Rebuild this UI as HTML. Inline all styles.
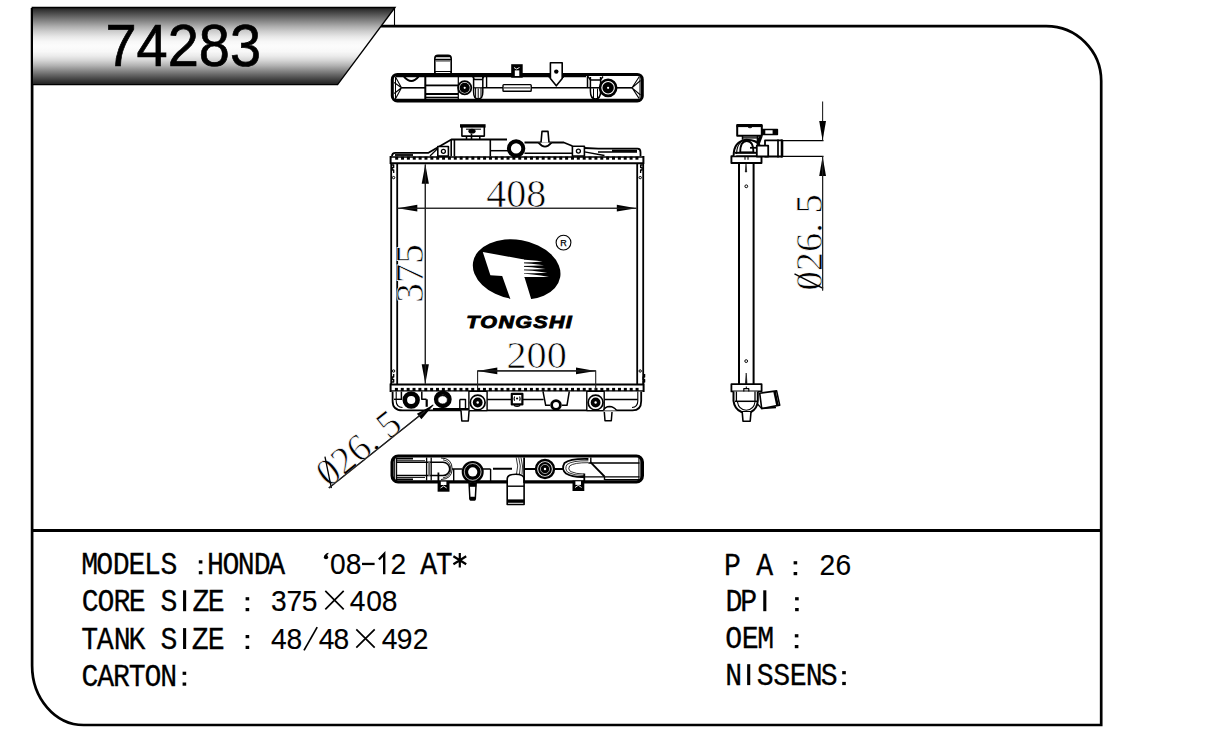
<!DOCTYPE html>
<html><head><meta charset="utf-8"><title>74283</title>
<style>
html,body{margin:0;padding:0;background:#fff;width:1220px;height:739px;overflow:hidden}
svg{display:block}
</style></head><body>
<svg width="1220" height="739" viewBox="0 0 1220 739">
<defs>
<linearGradient id="hg" x1="0" y1="0" x2="0" y2="1">
<stop offset="0.00" stop-color="#222222"/>
<stop offset="0.04" stop-color="#373737"/>
<stop offset="0.10" stop-color="#5a5a5a"/>
<stop offset="0.17" stop-color="#828282"/>
<stop offset="0.24" stop-color="#aaaaaa"/>
<stop offset="0.31" stop-color="#cdcdcd"/>
<stop offset="0.38" stop-color="#e8e8e8"/>
<stop offset="0.44" stop-color="#f7f7f7"/>
<stop offset="0.50" stop-color="#fcfcfc"/>
<stop offset="0.57" stop-color="#f8f8f8"/>
<stop offset="0.63" stop-color="#ebebeb"/>
<stop offset="0.69" stop-color="#d4d4d4"/>
<stop offset="0.75" stop-color="#b4b4b4"/>
<stop offset="0.81" stop-color="#8e8e8e"/>
<stop offset="0.87" stop-color="#686868"/>
<stop offset="0.93" stop-color="#444444"/>
<stop offset="1.00" stop-color="#1e1e1e"/>
</linearGradient>
</defs>
<rect width="1220" height="739" fill="#fff"/>
<!-- outer frame -->
<path d="M32.1 8 V665.5 A51.5 59.5 0 0 0 83.6 725 H1101.2 V81 A55 55 0 0 0 1046.2 26.1 H381" fill="none" stroke="#000" stroke-width="2.7"/>
<line x1="32.1" y1="530.5" x2="1101.2" y2="530.5" stroke="#000" stroke-width="3.1"/>
<!-- header -->
<path d="M32.3 7.5 H395 L337.6 84.6 H32.3 Z" fill="url(#hg)" stroke="#000" stroke-width="1.4"/>
<line x1="394.5" y1="7.5" x2="394.5" y2="26" stroke="#000" stroke-width="1.1"/>
<text x="0" y="0" font-family="Liberation Sans" font-size="59.5" fill="#000" stroke="#000" stroke-width="0.7" transform="translate(105.5 65.9) scale(0.94 1)">74283</text>
<g transform="scale(0.8800 1)" font-family="Liberation Mono" font-size="32.0" fill="#000" stroke="#000" stroke-width="0.30"><text x="101.99 119.09 137.84 155.51 173.18 192.10 244.89 262.50 279.89 297.95 314.32 487.16 504.66" y="574.3" text-anchor="middle">MODELSHONDAAT</text>
<text x="102.50 120.34 138.64 156.02 191.93 228.41 245.57 834.09 850.80" y="611.2" text-anchor="middle">CORESZEDP</text>
<text x="101.82 119.66 138.75 155.68 191.93 227.61 245.57" y="649.0" text-anchor="middle">TANKSZE</text>
<text x="102.16 120.06 137.95 155.85 173.75 191.65" y="685.7" text-anchor="middle">CARTON</text>
<text x="832.27 869.09" y="575.2" text-anchor="middle">PA</text>
<text x="833.86 852.39 870.00" y="648.2" text-anchor="middle">OEM</text>
<text x="833.86 869.66 888.30 907.16 925.11 942.39" y="685.1" text-anchor="middle">NSSENS</text></g><g transform="scale(0.9500 1)" font-family="Liberation Sans" font-size="29.7" fill="#000" stroke="#000" stroke-width="0.15"><text x="355.68 372.21 419.26" y="574.3" text-anchor="middle">082</text>
<text x="293.47 309.79 326.00 376.42 393.68 410.00" y="611.2" text-anchor="middle">375408</text>
<text x="293.47 309.89 343.68 359.37 410.11 426.00 442.84" y="649.0" text-anchor="middle">4848492</text>
<text x="870.84 887.79" y="575.2" text-anchor="middle">26</text></g><rect x="198.80" y="560.30" width="3.6" height="3.2" fill="#000"/><rect x="198.80" y="571.10" width="3.6" height="3.2" fill="#000"/>
<circle cx="326.00" cy="557.20" r="2.15" fill="#000"/>
<path d="M324.10 557.10 Q324.70 553.50 328.40 552.80 L328.40 553.90 Q326.30 554.70 327.00 556.70 Z" fill="#000"/>
<rect x="362.00" y="562.80" width="12.6" height="2.3" fill="#000"/>
<path d="M378.90 559.50 L384.20 553.90 V574.30" stroke="#000" stroke-width="2.4" fill="none" stroke-linejoin="miter"/>
<path d="M459.80 553.00 V567.60 M453.40 556.30 L466.20 564.30 M453.40 564.30 L466.20 556.30" stroke="#000" stroke-width="2.2" fill="none"/>
<rect x="183.05" y="590.30" width="3.1" height="20.90" fill="#000"/>
<rect x="245.60" y="597.20" width="3.6" height="3.2" fill="#000"/><rect x="245.60" y="608.00" width="3.6" height="3.2" fill="#000"/>
<rect x="183.05" y="628.10" width="3.1" height="20.90" fill="#000"/>
<rect x="245.60" y="635.00" width="3.6" height="3.2" fill="#000"/><rect x="245.60" y="645.80" width="3.6" height="3.2" fill="#000"/>
<line x1="304.00" y1="650.40" x2="317.20" y2="627.20" stroke="#000" stroke-width="1.7"/>
<rect x="182.60" y="671.70" width="3.6" height="3.2" fill="#000"/><rect x="182.60" y="682.50" width="3.6" height="3.2" fill="#000"/>
<rect x="793.60" y="561.20" width="3.6" height="3.2" fill="#000"/><rect x="793.60" y="572.00" width="3.6" height="3.2" fill="#000"/>
<rect x="763.25" y="590.30" width="3.1" height="20.90" fill="#000"/>
<rect x="795.10" y="597.20" width="3.6" height="3.2" fill="#000"/><rect x="795.10" y="608.00" width="3.6" height="3.2" fill="#000"/>
<rect x="794.80" y="634.20" width="3.6" height="3.2" fill="#000"/><rect x="794.80" y="645.00" width="3.6" height="3.2" fill="#000"/>
<rect x="747.15" y="664.20" width="3.1" height="20.90" fill="#000"/>
<rect x="842.20" y="671.10" width="3.6" height="3.2" fill="#000"/><rect x="842.20" y="681.90" width="3.6" height="3.2" fill="#000"/><path d="M325.3 590.9 L343.7 609.3 M343.7 590.9 L325.3 609.3" stroke="#000" stroke-width="1.7" fill="none"/><path d="M356.3 629.3 L374.7 647.7 M374.7 629.3 L356.3 647.7" stroke="#000" stroke-width="1.7" fill="none"/>
<!-- ===== TOP TANK (top view) ===== -->
<g fill="none" stroke="#000" stroke-linejoin="round" stroke-linecap="butt">
  <!-- filler neck -->
  <path d="M434.8 73 V58.5 Q434.8 55.2 438 55.2 H448 Q451.2 55.2 451.2 58.5 V73" stroke-width="1.6" fill="#fff"/>
  <path d="M435.5 56.6 H450.5 M435 59.4 H451" stroke-width="1.5"/>
  <path d="M436 61 H450" stroke-width="0.8"/>
  <path d="M435 73.4 V71.5 H451 V73.4" stroke-width="1"/>
  <!-- outer -->
  <rect x="392.3" y="74.4" width="250" height="26.5" rx="5" stroke-width="3"/>
  <line x1="394" y1="99.8" x2="641" y2="99.8" stroke-width="2"/>
  <line x1="396" y1="76.6" x2="586" y2="76.6" stroke-width="1.3"/>
  <!-- left chevron -->
  <path d="M395.5 77 L401.5 87.8 L395.5 98.8 M394.2 82.5 L401.5 87.8 L394.2 93.5" stroke-width="1.1"/>
  <line x1="395.5" y1="76.5" x2="395.5" y2="99" stroke-width="1"/>
  <path d="M404 76.6 Q411.3 85.5 418.5 76.6" stroke-width="2"/>
  <line x1="401.5" y1="87.8" x2="425" y2="87.8" stroke-width="1.6"/>
  <!-- filler base block -->
  <line x1="425.3" y1="76" x2="425.3" y2="99.5" stroke-width="2"/>
  <line x1="426" y1="85.4" x2="458" y2="85.4" stroke-width="1.8"/>
  <line x1="426" y1="94" x2="458" y2="94" stroke-width="2"/>
  <line x1="426" y1="97.5" x2="458" y2="97.5" stroke-width="1.6"/>
  <path d="M436 76.3 V73.8 M442.5 76.3 V73.8" stroke-width="1.2"/>
  <line x1="458.3" y1="77" x2="458.3" y2="99" stroke-width="1.2"/>
  <!-- circle 1 -->
  <circle cx="464.7" cy="87.8" r="6.6" stroke-width="1.8" fill="#fff"/>
  <circle cx="464.7" cy="87.8" r="5.1" fill="#000" stroke="none"/>
  <circle cx="464.7" cy="87.8" r="1.1" fill="#fff" stroke="none"/>
  <!-- clip 1 -->
  <path d="M473.6 76.5 V92 Q473.6 99 478.2 99 Q482.8 99 482.8 92 V76.5" stroke-width="1.5"/>
  <path d="M475.6 88 V97 M478.2 88.5 V99 M481 88 V97" stroke-width="1"/>
  <line x1="473.6" y1="87.8" x2="482.8" y2="87.8" stroke-width="1.2"/>
  <path d="M472.5 76.5 L474.5 79.5 H482 L484 76.5" stroke-width="1.3"/>
  <line x1="486.6" y1="76.2" x2="486.6" y2="88" stroke-width="1.4"/>
  <line x1="482.8" y1="87.8" x2="606" y2="87.8" stroke-width="1.6"/>
  <!-- slot -->
  <rect x="503" y="84.6" width="28.2" height="6.6" rx="0.8" stroke-width="1.4" fill="#fff"/>
  <line x1="504" y1="87.9" x2="530" y2="87.9" stroke-width="1"/>
  <!-- small square tab -->
  <rect x="511.2" y="64.2" width="11.5" height="13.5" fill="#000" stroke="none"/>
  <rect x="514.8" y="70.4" width="4.5" height="5.6" fill="#fff" stroke="none"/>
  <path d="M514 67.5 L516.5 69 L519.5 67.5" stroke="#fff" stroke-width="0.9"/>
  <!-- pointed tab -->
  <path d="M550.4 74.3 V62.8 H562.2 V74.3 V78.5 L556.3 85.8 L550.4 78.5 Z" stroke-width="1.6" fill="#fff"/>
  <circle cx="556.3" cy="71.6" r="2.2" fill="#000" stroke="none"/>
  <path d="M547.5 76 L550.4 78.5 M565 76 L562.2 78.5" stroke-width="1"/>
  <!-- clip 2 -->
  <line x1="587.5" y1="76" x2="587.5" y2="88" stroke-width="1.5"/>
  <path d="M590.4 77 V91 Q590.4 99 595.5 99 Q600.6 99 600.6 91 V77" stroke-width="1.5"/>
  <path d="M593.5 88.5 V98 M597.5 88.5 V98" stroke-width="1"/>
  <path d="M588 76.5 L590.5 80 H600.5 L603 76.5" stroke-width="1.3"/>
  <!-- circle 2 -->
  <circle cx="608.1" cy="87.8" r="8.1" stroke-width="2.6" fill="#fff"/>
  <circle cx="608.1" cy="87.8" r="5.7" fill="#000" stroke="none"/>
  <circle cx="608.1" cy="87.8" r="1.1" fill="#fff" stroke="none"/>
  <line x1="616" y1="87.8" x2="632" y2="87.8" stroke-width="1.6"/>
  <!-- right chevron -->
  <path d="M639.2 76.8 L632 87.8 L639.2 98.6 M640.5 80.5 L632 87.8 L640.5 95" stroke-width="1.1"/>
  <line x1="640" y1="77" x2="640" y2="98.5" stroke-width="1"/>
</g>
<g fill="none" stroke="#000" stroke-linejoin="round">
<line x1="390.2" y1="163.3" x2="644" y2="163.3" stroke-width="1.9"/>
<line x1="391" y1="157.1" x2="643.5" y2="157.1" stroke-width="1.5"/>
<g fill="#000" stroke="none"><rect x="395.18" y="156.60" width="3.00" height="3.10"/><rect x="401.04" y="156.60" width="3.00" height="3.10"/><rect x="406.90" y="156.60" width="3.00" height="3.10"/><rect x="412.76" y="156.60" width="3.00" height="3.10"/><rect x="418.62" y="156.60" width="3.00" height="3.10"/><rect x="424.48" y="156.60" width="3.00" height="3.10"/><rect x="430.34" y="156.60" width="3.00" height="3.10"/><rect x="436.20" y="156.60" width="3.00" height="3.10"/><rect x="442.06" y="156.60" width="3.00" height="3.10"/><rect x="447.92" y="156.60" width="3.00" height="3.10"/><rect x="453.78" y="156.60" width="3.00" height="3.10"/><rect x="459.64" y="156.60" width="3.00" height="3.10"/><rect x="465.50" y="156.60" width="3.00" height="3.10"/><rect x="471.36" y="156.60" width="3.00" height="3.10"/><rect x="477.22" y="156.60" width="3.00" height="3.10"/><rect x="483.08" y="156.60" width="3.00" height="3.10"/><rect x="488.94" y="156.60" width="3.00" height="3.10"/><rect x="494.80" y="156.60" width="3.00" height="3.10"/><rect x="500.66" y="156.60" width="3.00" height="3.10"/><rect x="506.52" y="156.60" width="3.00" height="3.10"/><rect x="512.38" y="156.60" width="3.00" height="3.10"/><rect x="518.24" y="156.60" width="3.00" height="3.10"/><rect x="524.10" y="156.60" width="3.00" height="3.10"/><rect x="529.96" y="156.60" width="3.00" height="3.10"/><rect x="535.82" y="156.60" width="3.00" height="3.10"/><rect x="541.68" y="156.60" width="3.00" height="3.10"/><rect x="547.54" y="156.60" width="3.00" height="3.10"/><rect x="553.40" y="156.60" width="3.00" height="3.10"/><rect x="559.26" y="156.60" width="3.00" height="3.10"/><rect x="565.12" y="156.60" width="3.00" height="3.10"/><rect x="570.98" y="156.60" width="3.00" height="3.10"/><rect x="576.84" y="156.60" width="3.00" height="3.10"/><rect x="582.70" y="156.60" width="3.00" height="3.10"/><rect x="588.56" y="156.60" width="3.00" height="3.10"/><rect x="594.42" y="156.60" width="3.00" height="3.10"/><rect x="600.28" y="156.60" width="3.00" height="3.10"/><rect x="606.14" y="156.60" width="3.00" height="3.10"/><rect x="612.00" y="156.60" width="3.00" height="3.10"/><rect x="617.86" y="156.60" width="3.00" height="3.10"/><rect x="623.72" y="156.60" width="3.00" height="3.10"/><rect x="629.58" y="156.60" width="3.00" height="3.10"/><rect x="635.44" y="156.60" width="3.00" height="3.10"/></g>
<path d="M390.6 156 V164" stroke-width="2"/>
<path d="M643.4 156 V164" stroke-width="2"/>
<path d="M391.2 164 V384 M397.2 164 V384 M637.2 164 V384 M643.2 164 V384" stroke-width="1.8"/>
<path d="M391.2 165 h2.5 v2.5 h-1.5 v2.5 h1.5 v3" stroke-width="1.3"/>
<circle cx="393.6" cy="177.6" r="1.2" stroke-width="1"/>
<path d="M642.6 165 h-2 v2.5 h1.5 v2.5 h-1.5 v3" stroke-width="1.3"/>
<circle cx="640.2" cy="177.6" r="1.2" stroke-width="1"/>
<path d="M391.2 382 h2.5 v-2.5 h-1.5 v-2.5 h1.5 v-3" stroke-width="1.3"/>
<circle cx="393.6" cy="371" r="1.2" stroke-width="1"/>
<path d="M642.6 382 h2 v-2.5 h-1.5 v-2.5 h1.5 v-3" stroke-width="1.3"/>
<circle cx="640.2" cy="371" r="1.2" stroke-width="1"/>
<path d="M392 156.3 Q392 152.8 395.5 152.8 H428.5 L451.4 139.5 H507" stroke-width="1.8"/>
<path d="M395 155 H413" stroke-width="1.8"/>
<path d="M430 156 L437.7 148.5" stroke-width="1.2"/>
<rect x="437.8" y="146.5" width="10.6" height="9.6" stroke-width="1.6" fill="#fff"/>
<circle cx="443.4" cy="151.3" r="2" stroke-width="1.3"/>
<path d="M451.2 140 V156.2 M454.4 140 V156.2" stroke-width="1.6"/>
<path d="M490.3 139.5 V156.2" stroke-width="1.6"/>
<path d="M490.3 150.7 H508" stroke-width="1.5"/>
<path d="M466.5 136 V139.5 M479.8 136 V139.5" stroke-width="1.5"/>
<rect x="461.9" y="126" width="22.4" height="10.1" stroke-width="1.6" fill="#fff"/>
<rect x="460" y="124.2" width="25.6" height="3.4" fill="#000" stroke="none"/>
<ellipse cx="472" cy="131.2" rx="3.6" ry="2.4" fill="#000" stroke="none"/>
<path d="M466 129.2 H481" stroke-width="1"/>
<path d="M471.5 133.5 V139" stroke-width="1.6"/>
<circle cx="516.1" cy="148.4" r="7.2" stroke-width="4" fill="#fff"/>
<path d="M524.5 142.5 H563.8 L572.4 146 M584.4 148 L598.2 148.7 H637.5 Q640.5 148.7 640.5 152.2 V156.2" stroke-width="1.8"/>
<path d="M524.5 153.3 H572.4" stroke-width="1.6"/>
<path d="M538.5 142.6 Q545 150.5 551.5 142.6" stroke-width="1.8" fill="#fff"/>
<path d="M541 142.5 L542 131.4 H548 L549 142.5" stroke-width="1.6" fill="#fff"/>
<rect x="572.4" y="146.2" width="12" height="9.8" stroke-width="1.6" fill="#fff"/>
<circle cx="578.4" cy="151.1" r="2" stroke-width="1.3"/>
<path d="M584.4 151.8 L604.5 155.5 M598 152 H637" stroke-width="1.3"/>
<path d="M612 150.8 H637" stroke-width="2.2"/>
<line x1="390.2" y1="384.4" x2="644" y2="384.4" stroke-width="2"/>
<line x1="391" y1="390.9" x2="643.5" y2="390.9" stroke-width="1.4"/>
<g fill="#000" stroke="none"><rect x="394.91" y="387.90" width="3.00" height="3.20"/><rect x="400.78" y="387.90" width="3.00" height="3.20"/><rect x="406.65" y="387.90" width="3.00" height="3.20"/><rect x="412.52" y="387.90" width="3.00" height="3.20"/><rect x="418.39" y="387.90" width="3.00" height="3.20"/><rect x="424.26" y="387.90" width="3.00" height="3.20"/><rect x="430.13" y="387.90" width="3.00" height="3.20"/><rect x="436.00" y="387.90" width="3.00" height="3.20"/><rect x="441.87" y="387.90" width="3.00" height="3.20"/><rect x="447.74" y="387.90" width="3.00" height="3.20"/><rect x="453.61" y="387.90" width="3.00" height="3.20"/><rect x="459.48" y="387.90" width="3.00" height="3.20"/><rect x="465.35" y="387.90" width="3.00" height="3.20"/><rect x="471.22" y="387.90" width="3.00" height="3.20"/><rect x="477.09" y="387.90" width="3.00" height="3.20"/><rect x="482.96" y="387.90" width="3.00" height="3.20"/><rect x="488.83" y="387.90" width="3.00" height="3.20"/><rect x="494.70" y="387.90" width="3.00" height="3.20"/><rect x="500.57" y="387.90" width="3.00" height="3.20"/><rect x="506.44" y="387.90" width="3.00" height="3.20"/><rect x="512.31" y="387.90" width="3.00" height="3.20"/><rect x="518.18" y="387.90" width="3.00" height="3.20"/><rect x="524.05" y="387.90" width="3.00" height="3.20"/><rect x="529.92" y="387.90" width="3.00" height="3.20"/><rect x="535.79" y="387.90" width="3.00" height="3.20"/><rect x="541.66" y="387.90" width="3.00" height="3.20"/><rect x="547.53" y="387.90" width="3.00" height="3.20"/><rect x="553.40" y="387.90" width="3.00" height="3.20"/><rect x="559.27" y="387.90" width="3.00" height="3.20"/><rect x="565.14" y="387.90" width="3.00" height="3.20"/><rect x="571.01" y="387.90" width="3.00" height="3.20"/><rect x="576.88" y="387.90" width="3.00" height="3.20"/><rect x="582.75" y="387.90" width="3.00" height="3.20"/><rect x="588.62" y="387.90" width="3.00" height="3.20"/><rect x="594.49" y="387.90" width="3.00" height="3.20"/><rect x="600.36" y="387.90" width="3.00" height="3.20"/><rect x="606.23" y="387.90" width="3.00" height="3.20"/><rect x="612.10" y="387.90" width="3.00" height="3.20"/><rect x="617.97" y="387.90" width="3.00" height="3.20"/><rect x="623.84" y="387.90" width="3.00" height="3.20"/><rect x="629.71" y="387.90" width="3.00" height="3.20"/><rect x="635.58" y="387.90" width="3.00" height="3.20"/></g>
<path d="M390.6 383.5 V392 M643.6 383.5 V392" stroke-width="2"/>
<path d="M392.6 391.4 V401 Q392.6 410.4 402.5 410.4 H632.5 Q641.2 410.4 641.2 401 V391.4" stroke-width="1.8"/>
<path d="M396.2 391.5 V401 Q396.2 407.2 402.5 407.5" stroke-width="1.1"/>
<path d="M401.4 391.4 V400 M421.8 391.4 V399.3 H426.5" stroke-width="1.5"/>
<path d="M426.7 399.3 V406.8" stroke-width="2.2"/>
<path d="M394 399.3 H402" stroke-width="1.4"/>
<circle cx="411.2" cy="400" r="6.4" stroke-width="4.6" fill="#fff"/>
<circle cx="442.8" cy="399.3" r="6.7" stroke-width="4.4" fill="#fff"/>
<ellipse cx="442.6" cy="399.9" rx="4.8" ry="4.2" stroke-width="0.9" fill="#fff"/>
<path d="M438.5 396.6 Q442.6 393.8 446.8 396.6" stroke="#000" stroke-width="1.3"/>

<path d="M433 409.4 H470" stroke-width="2.6"/>
<rect x="468.9" y="391.4" width="18.2" height="19.2" stroke-width="1.4" fill="#fff"/>
<circle cx="477.7" cy="402.5" r="7.4" stroke-width="1.7" fill="#fff"/>
<circle cx="477.7" cy="402.5" r="4.9" fill="#000" stroke="none"/>
<circle cx="477.7" cy="402.5" r="1.2" fill="#fff" stroke="none"/>
<path d="M487.1 399.6 H543.6 M604.2 399.6 H637.8" stroke-width="1.5"/>
<path d="M459.8 399.5 H465.5 V410.4 M459.8 399.5 V410.4" stroke-width="1.4"/>
<path d="M461 410.4 L461.8 421 H468.3 L469.1 410.4" stroke-width="1.5" fill="#fff"/>
<rect x="511.8" y="393.8" width="10.6" height="10.6" stroke-width="2.2" fill="#fff"/>
<circle cx="517.1" cy="398.5" r="1.1" fill="#000" stroke="none"/>
<path d="M514.6 396.5 Q513.6 398.5 514.6 400.8 M519.6 396.5 Q520.6 398.5 519.6 400.8" stroke-width="1.1"/>
<path d="M514 405.3 Q517.1 407.3 520.2 405.3" stroke-width="1.4"/>
<path d="M543 391.4 L545.7 405.3 H550 M562 405.3 H567 L569.3 391.4" stroke-width="1.5"/>
<circle cx="556" cy="405" r="4.4" stroke-width="2.8" fill="#fff"/>
<rect x="586.8" y="391.4" width="17.4" height="19.2" stroke-width="1.4" fill="#fff"/>
<circle cx="595.6" cy="402.5" r="7.4" stroke-width="1.7" fill="#fff"/>
<circle cx="595.6" cy="402.5" r="4.9" fill="#000" stroke="none"/>
<circle cx="595.6" cy="402.5" r="1.2" fill="#fff" stroke="none"/>
<path d="M603.5 410.4 Q605 406.8 609.5 406.6 Q614 406.8 616.5 410.4" stroke-width="1.5" fill="#fff"/>
<path d="M604.3 412 L605 420.8 H611.3 L612 412" stroke-width="1.5" fill="#fff"/>
<path d="M637.8 391.5 V401 Q637.8 407 632 407.5" stroke-width="1.1"/>
</g>
<g stroke="#222" fill="none" stroke-width="1.1">
<line x1="397.5" y1="208.2" x2="636.5" y2="208.2"/>
<line x1="425.3" y1="164.5" x2="425.3" y2="383.8"/>
<line x1="477.6" y1="370.9" x2="595.7" y2="370.9"/>
<line x1="477.6" y1="370.4" x2="477.6" y2="390"/>
<line x1="595.7" y1="370.4" x2="595.7" y2="390"/>
<line x1="328.8" y1="488" x2="433" y2="405"/>
</g>
<path d="M397.80 208.20 L417.30 204.80 L417.30 211.60 Z" fill="#000" stroke="none"/>
<path d="M636.30 208.20 L616.80 211.60 L616.80 204.80 Z" fill="#000" stroke="none"/>
<path d="M425.30 164.30 L428.90 183.80 L421.70 183.80 Z" fill="#000" stroke="none"/>
<path d="M425.30 383.80 L421.70 364.30 L428.90 364.30 Z" fill="#000" stroke="none"/>
<path d="M477.80 370.90 L497.30 367.50 L497.30 374.30 Z" fill="#000" stroke="none"/>
<path d="M595.50 370.90 L576.00 374.30 L576.00 367.50 Z" fill="#000" stroke="none"/>
<path d="M434.00 404.60 L421.39 419.26 L416.90 413.63 Z" fill="#000" stroke="none"/>
<text x="516.3" y="206.6" font-size="40" text-anchor="middle" font-family="Liberation Serif" fill="#000" stroke="#fff" stroke-width="0.7">408</text>
<text x="0" y="0" font-size="39" text-anchor="middle" font-family="Liberation Serif" fill="#000" stroke="#fff" stroke-width="0.7" transform="translate(423.2 273.6) rotate(-90)">375</text>
<text x="0" y="0" font-size="38.5" text-anchor="middle" font-family="Liberation Serif" fill="#000" stroke="#fff" stroke-width="0.7" transform="translate(536.6 367.9) scale(1.045 1)">200</text><g fill="none" stroke="#000" stroke-linejoin="round">
<rect x="392.1" y="456" width="250.3" height="25.8" rx="6" stroke-width="3.2"/>
<path d="M394.7 458 V480 M396.6 458 V480" stroke-width="1.1"/>
<path d="M396 458.6 H413" stroke-width="1.8"/>
<path d="M396 460.7 H425" stroke-width="0.9"/>
<path d="M396 462.2 H443 A6.7 6.7 0 0 1 443 475.6 H396" stroke-width="1.5"/>
<path d="M396 477.5 H425" stroke-width="0.9"/>
<path d="M396 479.3 H413" stroke-width="1.6"/>
<path d="M426.6 457.5 V480.5 M431.2 457.5 V480.5" stroke-width="1.3"/>
<path d="M429.2 462 V476" stroke-width="2" stroke="#666"/>
<path d="M441 458 Q452 458 452.2 469 Q452 479 441 479.5" stroke-width="0.9"/>
<path d="M443 459.8 Q450.5 461 450.8 469 Q450.5 477 443 477.8" stroke-width="0.8"/>
<path d="M453.7 469 V481 M490.6 469 V481" stroke-width="1.4"/>
<path d="M452 469 H462 M483 469 H490.6" stroke-width="1.6"/>
<path d="M493 468.8 H512 M524 469 H535 M555 469 H563.5" stroke-width="2"/>
<rect x="437.6" y="481" width="11.9" height="10.7" fill="#000" stroke="none"/>
<path d="M438.4 472.5 V481" stroke-width="1.8"/>
<rect x="440.8" y="481.6" width="5.6" height="3.4" fill="#fff" stroke="none"/>
<path d="M440.5 488 L443.6 486 L446.7 488" stroke="#fff" stroke-width="0.9"/>
<path d="M469 482 L469.9 499 H475.3 L476.2 482" stroke-width="1.5" fill="#fff"/>
<rect x="469" y="482.3" width="7.2" height="4.5" fill="#000" stroke="none"/>
<rect x="469.6" y="496.8" width="6" height="4" rx="1" fill="#000" stroke="none"/>
<circle cx="472.7" cy="471.9" r="11" fill="#000" stroke="none"/>
<circle cx="472.7" cy="471.9" r="8.4" stroke="#fff" stroke-width="0.7"/>
<circle cx="472.7" cy="471.9" r="4.6" fill="#fff" stroke="none"/>
<path d="M507.2 483 V479 Q507.2 474.2 515.6 474.2 Q524.1 474.2 524.1 479 V483" stroke-width="1.6" fill="#fff"/>
<path d="M507.2 482 V504.5 H524.1 V482" stroke-width="1.6" fill="#fff"/>
<path d="M507.2 486.2 H524.1" stroke-width="1.4"/>
<rect x="507" y="499.4" width="17.4" height="3.4" fill="#000" stroke="none"/>
<path d="M516.2 457.5 Q519 466 516.5 474.2 M518.7 457.5 Q521.5 466 519.5 474.2 M521 457.5 Q523.5 466 522 474.5" stroke-width="0.8"/>
<path d="M524.1 457.5 V483" stroke-width="1.8"/>
<circle cx="545" cy="469" r="9" stroke-width="2.4" fill="#fff"/>
<circle cx="545" cy="469" r="6.9" fill="#000" stroke="none"/>
<circle cx="545" cy="469" r="4.6" stroke="#fff" stroke-width="0.6"/>
<circle cx="545" cy="469" r="1.2" fill="#fff" stroke="none"/>
<path d="M588.4 459 Q570 458.5 564.5 463 Q561 469 566 473.5 Q572 477.3 584 477" stroke-width="1.8"/>
<path d="M588.4 460.8 Q572 460.5 567 464.5 Q564.3 469 568 472.5 Q574 475.5 584 475.5" stroke-width="0.8"/>
<path d="M588.4 462.7 Q574 462.5 569.5 466 Q567.5 469 570.5 471.5 Q576 474 584 474" stroke-width="0.8"/>
<rect x="572.5" y="480.5" width="11.8" height="10.5" fill="#000" stroke="none"/>
<path d="M584.3 473.5 V481" stroke-width="1.8"/>
<rect x="575.4" y="481.3" width="5.6" height="3.6" fill="#fff" stroke="none"/>
<path d="M575 487.5 L578.3 485.3 L581.6 487.5" stroke="#fff" stroke-width="0.9"/>
<path d="M588.4 463 H639.5 M584.3 476.8 H639.5" stroke-width="1.3"/>
<path d="M590.4 462.2 L604.5 476.5" stroke-width="1.8"/>
<path d="M590.8 457.6 V462.6 M604.5 476.5 V480" stroke-width="1.4"/>
<path d="M638.8 457.8 V480 M640.2 457.8 V480" stroke-width="0.9"/>
<path d="M604.5 479.6 H640" stroke-width="1.2"/>
</g>
<g>
<ellipse cx="516.65" cy="269.6" rx="44.2" ry="29.75" transform="rotate(10 516.65 269.6)" fill="#000"/>
<path d="M482.8 252 L524 259.5 L524 277.3 L524.5 277.2 L533 305 L512.5 305 L502.2 275.9 L490.4 275.3 Z" fill="#fff"/>
<path d="M518.0 259.4 Q532.0 259.7 542.5 261.6 Q532.0 262.7 518.0 262.6 Z" fill="#fff"/>
<path d="M518.0 262.9 Q532.0 263.2 544.0 265.3 Q532.0 266.2 518.0 266.1 Z" fill="#fff"/>
<path d="M518.0 266.4 Q532.0 266.7 545.5 268.9 Q532.0 269.7 518.0 269.6 Z" fill="#fff"/>
<path d="M518.0 269.9 Q532.0 270.2 547.2 272.7 Q532.0 273.3 518.0 273.2 Z" fill="#fff"/>
<path d="M518.0 273.5 Q532.0 273.8 549.0 277.0 Q532.0 277.1 518.0 277.1 Z" fill="#fff"/>
<circle cx="563.5" cy="242.6" r="7.4" fill="none" stroke="#000" stroke-width="1.1"/>
<text x="563.5" y="245.8" font-family="Liberation Sans" font-size="9" text-anchor="middle" fill="#000" stroke="#000" stroke-width="0.25">R</text>
<text x="0" y="0" font-family="Liberation Sans" font-weight="bold" font-style="italic" font-size="17.3" fill="#000" transform="translate(466.3 328.4) scale(1.24 1)" stroke="#000" stroke-width="0.9" letter-spacing="1.1">TONGSHI</text>
</g>
<g fill="none" stroke="#000" stroke-linejoin="round">
<path d="M739 163 V384 M753.6 163 V384" stroke-width="2"/>
<circle cx="746.3" cy="186.3" r="1.4" stroke-width="1"/>
<circle cx="746.2" cy="361.1" r="1.4" stroke-width="1"/>
<path d="M746.2 373 L745.4 383.5 H747 Z" fill="#000" stroke-width="0.6"/>
<path d="M746 163.5 L745.3 172 H746.7 Z" fill="#000" stroke-width="0.6"/>
<rect x="731.4" y="156.3" width="30.1" height="6.7" stroke-width="1.9" fill="#fff"/>
<path d="M745 156.3 V159.8 M748 156.3 V159.8" stroke-width="1.1"/>
<rect x="765" y="140.4" width="17.4" height="16.1" stroke-width="1.8" fill="#fff"/>
<path d="M778 139.5 V157.4 M781.6 139.5 V157.4" stroke-width="1.7"/>
<path d="M733.6 156.3 Q733.4 141.2 746.5 139.8 Q756.5 139.8 760 145.8" stroke-width="2" fill="#fff"/>
<path d="M736.6 154 Q736.6 146 741 142.2" stroke-width="1.1"/>
<path d="M740.2 152.3 Q740.2 141 746.8 141 Q753.4 141 753.4 152.3 Z" stroke-width="1.8" fill="#fff"/>
<path d="M750 147.8 H757" stroke-width="1.8"/>
<path d="M734.5 152.8 H761" stroke-width="2"/>
<rect x="756.8" y="145.7" width="11.4" height="10.8" stroke-width="1.8" fill="#fff"/>
<path d="M756.5 140 L759.8 135.8 L762.6 136.6 L759.2 145.8 L756.8 145.8 Z" fill="#000" stroke="none"/>
<path d="M742.5 135.8 V139.8 M757.5 135.8 V139.8" stroke-width="1.5"/>
<path d="M743 137.9 H757" stroke-width="1.3"/>
<rect x="737.2" y="125.4" width="24.6" height="10.4" stroke-width="2" fill="#fff"/>
<rect x="736.5" y="124" width="25.8" height="3.1" fill="#000" stroke="none"/>
<path d="M748 127 Q750 128.8 752 127" stroke-width="1"/>
<rect x="762" y="129.6" width="15.4" height="4.8" stroke-width="1.5" fill="#fff"/>
<rect x="772.6" y="129" width="5.2" height="6" rx="1" fill="#000" stroke="none"/>
<rect x="761.5" y="129" width="3.8" height="6" fill="#000" stroke="none"/>
<path d="M782.3 140.6 H823.5 M782.3 156.3 H823.5" stroke-width="1.2"/>
<rect x="731.4" y="384.2" width="30.2" height="7.2" stroke-width="1.8" fill="#fff"/>
<path d="M733.5 391.5 V400.8 Q734.5 409 741.5 412 H751 Q757.2 409 757.8 400.8 V391.5" stroke-width="2" fill="#fff"/>
<path d="M736.4 391.5 V401.3 M755 391.5 V401.3" stroke-width="1.3"/>
<path d="M735 401.3 H757" stroke-width="1.5"/>
<path d="M737.5 402 Q738.5 409.5 746.3 410.3 Q754 409.5 755 402" stroke-width="1.1"/>
<path d="M743.8 391.5 V388.7 H748.8 V391.5" stroke-width="1.2"/>
<path d="M746.3 388.7 V386.5" stroke-width="1"/>
<path d="M742.2 412 L743 421.3 H750.2 L751 412" stroke-width="1.6" fill="#fff"/>
<path d="M759.7 393.2 L776.6 390.9 L779.7 405.1 L761.7 408.5 Z" stroke-width="1.6" fill="#fff"/>
<path d="M774.5 391.3 L777.5 405.5" stroke-width="2.6"/>
<path d="M757.5 404 L761.7 408.5 L776 407.5" stroke-width="1.3"/>
</g>
<g stroke="#222" stroke-width="1.1" fill="none">
<line x1="822.6" y1="101.5" x2="822.6" y2="140.4"/>
<line x1="822.6" y1="156.5" x2="822.6" y2="290.5"/>
</g>
<path d="M822.60 140.40 L819.20 120.90 L826.00 120.90 Z" fill="#000" stroke="none"/>
<path d="M822.60 156.50 L826.00 176.00 L819.20 176.00 Z" fill="#000" stroke="none"/>
<g transform="translate(821.50 290.40) rotate(-90.00)"><text x="0" y="0" font-size="38.5" xml:space="preserve" font-family="Liberation Serif" fill="#000" stroke="#fff" stroke-width="0.7">026. 5</text><line x1="2" y1="1.6" x2="16.6" y2="-27" stroke="#000" stroke-width="1.3"/></g>
<g transform="translate(328.80 488.00) rotate(-38.55)"><text x="0" y="0" font-size="38.5" xml:space="preserve" font-family="Liberation Serif" fill="#000" stroke="#fff" stroke-width="0.7">026. 5</text><line x1="2" y1="1.6" x2="16.6" y2="-27" stroke="#000" stroke-width="1.3"/></g>
<g stroke="#222" stroke-width="1.1" fill="none">
<line x1="822.6" y1="156.5" x2="822.6" y2="290.5"/>
<line x1="328.8" y1="488" x2="425" y2="411.3"/>
<line x1="397.5" y1="208.2" x2="636.5" y2="208.2"/>
<line x1="477.6" y1="370.9" x2="595.7" y2="370.9"/>
<line x1="425.3" y1="164.5" x2="425.3" y2="383.8"/>
</g>
</svg>
</body></html>
